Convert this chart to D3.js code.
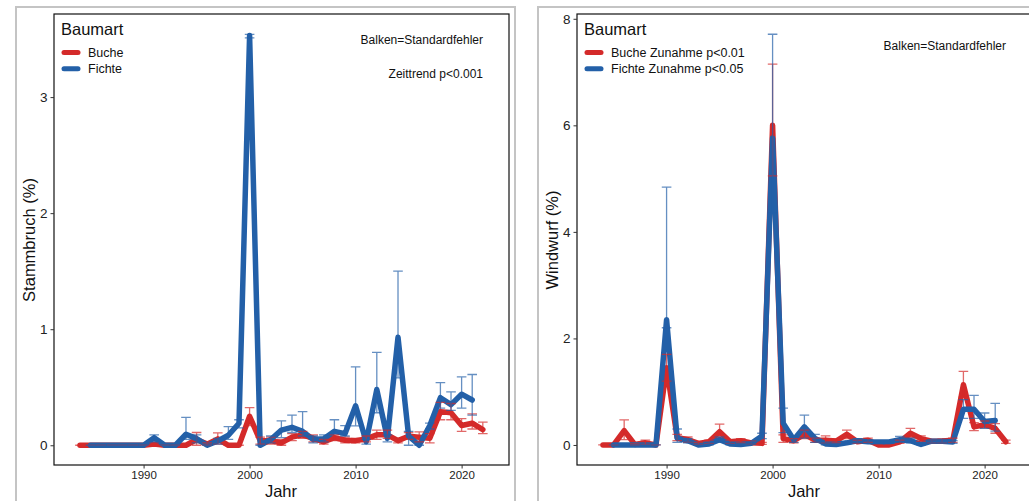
<!DOCTYPE html>
<html><head><meta charset="utf-8">
<script src="https://cdn.jsdelivr.net/npm/d3@7"></script>
<style>
body{margin:0;background:#fff;}
svg{display:block;font-family:"Liberation Sans",Arial,sans-serif;}
</style></head>
<body>
<svg id="c" width="1029" height="501"></svg>
<script>
// ---------------- DATA ----------------
const yearsBuche = [1984,1985,1986,1987,1988,1989,1990,1991,1992,1993,1994,1995,1996,1997,1998,1999,2000,2001,2002,2003,2004,2005,2006,2007,2008,2009,2010,2011,2012,2013,2014,2015,2016,2017,2018,2019,2020,2021,2022];
const yearsFichte = [1985,1986,1987,1988,1989,1990,1991,1992,1993,1994,1995,1996,1997,1998,1999,2000,2001,2002,2003,2004,2005,2006,2007,2008,2009,2010,2011,2012,2013,2014,2015,2016,2017,2018,2019,2020,2021];

// Stammbruch (%)
const stammBuche   = [0,0,0,0,0,0,0,0.01,0,0,0,0.05,0.01,0.055,0,0,0.25,0.04,0.04,0.02,0.07,0.09,0.06,0.03,0.066,0.043,0.04,0.055,0.09,0.09,0.04,0.078,0.07,0.06,0.29,0.28,0.17,0.19,0.135];
const stammBucheLo = [0,0,0,0,0,0,0,0,0,0,0,0.0,0,0.01,0,0,0.17,0.01,0.01,0,0.04,0.06,0.03,0.01,0.04,0.02,0.02,0.03,0.05,0.06,0.02,0.05,0.03,0.02,0.22,0.22,0.12,0.14,0.10];
const stammBucheHi = [0,0,0,0,0,0,0,0.02,0,0,0,0.11,0.02,0.106,0,0,0.325,0.07,0.07,0.05,0.10,0.12,0.09,0.05,0.09,0.07,0.06,0.08,0.13,0.13,0.06,0.11,0.115,0.10,0.37,0.36,0.23,0.27,0.20];
const stammFichte   = [0,0,0,0,0,0,0.066,0,0,0.095,0.057,0,0.037,0.086,0.19,3.53,0,0.05,0.13,0.155,0.12,0.05,0.057,0.12,0.10,0.34,0.03,0.48,0.06,0.93,0.08,0,0.17,0.41,0.35,0.44,0.39];
const stammFichteLo = [0,0,0,0,0,0,0.03,0,0,0.05,0.02,0,0.01,0.05,0.15,3.51,0,0.02,0.066,0.11,0.08,0.02,0.03,0.10,0.08,0.167,0.01,0.28,0.03,0.58,0,0,0.14,0.32,0.30,0.32,0.26];
const stammFichteHi = [0,0,0,0,0,0,0.09,0,0,0.24,0.09,0,0.06,0.16,0.22,3.54,0,0.08,0.21,0.26,0.29,0.08,0.09,0.22,0.17,0.675,0.05,0.80,0.09,1.50,0.12,0,0.19,0.54,0.46,0.59,0.61];

// Windwurf (%)
const windBuche   = [0,0,0.27,0.01,0.04,0,1.45,0.14,0.10,0.03,0.06,0.25,0.06,0.08,0.04,0.03,6.0,0.12,0.08,0.2,0.09,0.09,0.075,0.2,0.06,0.09,0,0,0.06,0.22,0.12,0.07,0.075,0.09,1.13,0.34,0.38,0.31,0.06];
const windBucheLo = [0,0,0.1,0,0.01,0,1.2,0.08,0.05,0.01,0.03,0.15,0.03,0.04,0.01,0.01,5.05,0.05,0.04,0.12,0.05,0.04,0.04,0.12,0.03,0.05,0,0,0.03,0.14,0.07,0.04,0.04,0.05,0.9,0.27,0.32,0.22,0.03];
const windBucheHi = [0,0,0.47,0.02,0.09,0,1.7,0.20,0.15,0.05,0.09,0.39,0.09,0.12,0.07,0.05,7.15,0.19,0.12,0.28,0.13,0.17,0.11,0.28,0.09,0.13,0,0,0.09,0.31,0.17,0.1,0.11,0.13,1.38,0.42,0.45,0.40,0.09];
const windFichte   = [0,0,0,0,0,2.35,0.125,0.08,0,0.02,0.1,0.02,0.01,0.03,0.17,5.76,0.41,0.10,0.34,0.125,0.02,0.01,0.04,0.08,0.06,0.056,0.056,0.1,0.08,0.01,0.07,0.07,0.056,0.67,0.67,0.44,0.46];
const windFichteLo = [0,0,0,0,0,2.2,0.05,0.04,0,0,0.05,0,0,0.01,0.12,4.35,0.23,0.05,0.13,0.05,0,0,0.02,0.04,0.03,0.03,0.03,0.06,0.04,0,0.04,0.04,0.03,0.5,0.5,0.31,0.26];
const windFichteHi = [0,0,0,0,0,4.84,0.3,0.12,0,0.04,0.15,0.04,0.02,0.06,0.22,7.71,0.69,0.15,0.56,0.2,0.04,0.02,0.06,0.12,0.09,0.08,0.08,0.16,0.13,0.02,0.1,0.1,0.08,0.85,0.93,0.60,0.78];

const xTicks = [1990,2000,2010,2020];
const stammYTicks = [0,1,2,3];
const windYTicks = [0,2,4,6,8];

// ---------------- STYLE ----------------
const RED = "#d42a2a", BLUE = "#2360a8";
const svg = d3.select("#c");

function panel(cfg){
  const g = svg.append("g");
  g.append("path").attr("d", cfg.frame).attr("fill","none").attr("stroke","#c4c4c4").attr("stroke-width",2);

  const x = d3.scaleLinear().domain([1981.55,2024.47]).range([cfg.left, cfg.left+455]);
  const y = d3.scaleLinear().domain(cfg.yDomain).range([465,14]);

  const clipId = "clip"+cfg.id;
  svg.append("clipPath").attr("id",clipId).append("rect")
    .attr("x",cfg.left).attr("y",14).attr("width",455).attr("height",451);
  const plot = g.append("g").attr("clip-path",`url(#${clipId})`);

  const line = d3.line().x(d=>x(d[0])).y(d=>y(d[1])).curve(d3.curveLinear);
  const series = [
    {years:yearsBuche, v:cfg.buche, lo:cfg.bucheLo, hi:cfg.bucheHi, c:RED},
    {years:yearsFichte, v:cfg.fichte, lo:cfg.fichteLo, hi:cfg.fichteHi, c:BLUE}
  ];
  series.forEach(s=>{
    plot.append("path").datum(s.years.map((yr,i)=>[yr,s.v[i]]))
      .attr("d",line).attr("fill","none").attr("stroke",s.c)
      .attr("stroke-width",5.5).attr("stroke-linejoin","round").attr("stroke-linecap","round");
  });
  series.forEach(s=>{
    const eb = plot.append("g").attr("stroke",s.c).attr("stroke-opacity",0.7).attr("stroke-width",1.3).attr("fill","none");
    s.years.forEach((yr,i)=>{
      const cx = x(yr), y1 = y(s.lo[i]), y2 = y(s.hi[i]), w = 4.8;
      eb.append("path").attr("d",`M${cx-w},${y2}H${cx+w}M${cx},${y2}V${y1}M${cx-w},${y1}H${cx+w}`);
    });
  });

  g.append("rect").attr("x",cfg.left).attr("y",14).attr("width",455).attr("height",451)
    .attr("fill","none").attr("stroke","#111").attr("stroke-width",1.2);

  const xa = g.append("g").attr("transform","translate(0,465)")
    .call(d3.axisBottom(x).tickValues(xTicks).tickFormat(d3.format("d")).tickSize(3.5).tickPadding(2));
  xa.select(".domain").remove();
  xa.selectAll("line").attr("stroke","#333");
  xa.selectAll("text").attr("font-size",11.5).attr("fill","#222").attr("font-family","Liberation Sans, Arial, sans-serif");

  const ya = g.append("g").attr("transform",`translate(${cfg.left},0)`)
    .call(d3.axisLeft(y).tickValues(cfg.yTicks).tickFormat(d3.format("d")).tickSize(3.5).tickPadding(3));
  ya.select(".domain").remove();
  ya.selectAll("line").attr("stroke","#333");
  ya.selectAll("text").attr("font-size",13.5).attr("fill","#222").attr("font-family","Liberation Sans, Arial, sans-serif");

  g.append("text").attr("x",cfg.left+227).attr("y",497).attr("text-anchor","middle")
    .attr("font-size",16.5).attr("fill","#111").text("Jahr");
  g.append("text").attr("transform",`translate(${cfg.ytx},240) rotate(-90)`).attr("text-anchor","middle")
    .attr("dy","0.35em").attr("font-size",16.5).attr("fill","#111").text(cfg.ytitle);

  const lg = g.append("g");
  lg.append("text").attr("x",cfg.left+7).attr("y",35).attr("font-size",16.5).attr("fill","#111").text("Baumart");
  cfg.legend.forEach((lab,i)=>{
    const yy = 52.5 + i*16.3;
    lg.append("line").attr("x1",cfg.left+10).attr("x2",cfg.left+24).attr("y1",yy).attr("y2",yy)
      .attr("stroke",i===0?RED:BLUE).attr("stroke-width",5).attr("stroke-linecap","round");
    lg.append("text").attr("x",cfg.left+34).attr("y",yy).attr("dy","0.35em")
      .attr("font-size",12.5).attr("fill","#111").text(lab);
  });

  cfg.notes.forEach(n=>{
    g.append("text").attr("x",n.x).attr("y",n.y).attr("text-anchor","end").attr("dy","0.35em")
      .attr("font-size",12).attr("fill","#111").text(n.t);
  });
}

panel({
  id:"L", left:54, frame:"M16,501V7H515V501",
  yDomain:[-0.17,3.716], yTicks:stammYTicks, ytitle:"Stammbruch (%)", ytx:29,
  buche:stammBuche, bucheLo:stammBucheLo, bucheHi:stammBucheHi,
  fichte:stammFichte, fichteLo:stammFichteLo, fichteHi:stammFichteHi,
  legend:["Buche","Fichte"],
  notes:[{x:483,y:39.5,t:"Balken=Standardfehler"},{x:483,y:73.5,t:"Zeittrend p<0.001"}]
});
panel({
  id:"R", left:577, frame:"M538,501V7H1029",
  yDomain:[-0.376,8.09], yTicks:windYTicks, ytitle:"Windwurf (%)", ytx:552,
  buche:windBuche, bucheLo:windBucheLo, bucheHi:windBucheHi,
  fichte:windFichte, fichteLo:windFichteLo, fichteHi:windFichteHi,
  legend:["Buche Zunahme p<0.01","Fichte Zunahme p<0.05"],
  notes:[{x:1006,y:46,t:"Balken=Standardfehler"}]
});
</script>
</body></html>
